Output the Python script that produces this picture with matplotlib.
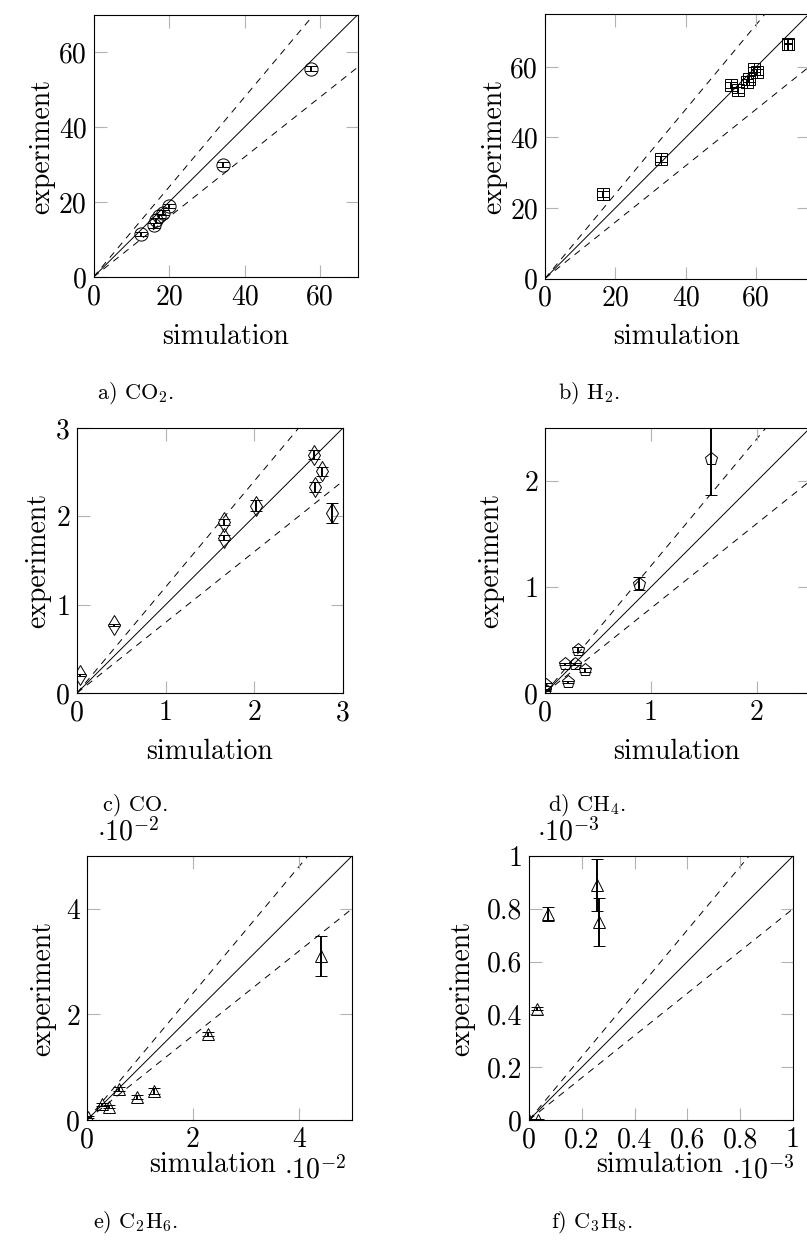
import numpy as np
import matplotlib
matplotlib.use("Agg")
import matplotlib.pyplot as plt
from matplotlib.ticker import FuncFormatter

# a) CO2
co2_sim = [12.5, 16.0, 16.5, 17.4, 18.3, 20.1, 34.2, 57.5]
co2_exp = [11.5, 13.8, 15.1, 16.3, 17.2, 19.0, 30.0, 55.6]
co2_err = [0.6, 0.6, 0.6, 0.6, 0.6, 0.6, 0.6, 0.6]

# b) H2
h2_sim = [16.5, 32.9, 52.7, 54.8, 57.5, 58.0, 59.4, 60.2, 69.0]
h2_exp = [23.9, 33.9, 54.9, 53.4, 55.8, 56.5, 59.3, 58.6, 66.4]
h2_err = [0.8, 0.8, 0.8, 0.8, 0.8, 0.8, 0.8, 0.8, 1.5]
h2_xerr = [0, 0, 0, 0, 0, 0, 0, 0, 1.2]

# c) CO
co_sim = [0.03, 0.42, 1.66, 1.66, 2.02, 2.67, 2.76, 2.68, 2.88]
co_exp = [0.20, 0.77, 1.94, 1.76, 2.12, 2.70, 2.51, 2.33, 2.04]
co_err = [0.01, 0.01, 0.035, 0.03, 0.06, 0.05, 0.05, 0.06, 0.11]

# d) CH4
ch4_sim = [0.00, 0.01, 0.22, 0.19, 0.28, 0.38, 0.31, 0.885, 1.57]
ch4_exp = [0.03, 0.08, 0.105, 0.27, 0.27, 0.22, 0.41, 1.03, 2.21]
ch4_err = [0.01, 0.01, 0.01, 0.01, 0.01, 0.02, 0.02, 0.06, 0.34]

# e) C2H6 (x 1e-2)
c2h6_sim = [0.02, 0.28, 0.42, 0.61, 0.95, 1.26, 2.28, 4.42]
c2h6_exp = [0.05, 0.30, 0.25, 0.59, 0.44, 0.55, 1.63, 3.10]
c2h6_err = [0.02, 0.03, 0.03, 0.04, 0.04, 0.05, 0.03, 0.38]

# f) C3H8 (x 1e-3)
c3h8_sim = [0.0, 0.035, 0.031, 0.072, 0.258, 0.266]
c3h8_exp = [0.0, 0.0, 0.422, 0.78, 0.889, 0.75]
c3h8_err = [0.003, 0.003, 0.006, 0.028, 0.098, 0.09]

plt.rcParams.update({
    "font.family": "cmr10",
    "mathtext.fontset": "cm",
    "axes.formatter.use_mathtext": True,
    "axes.unicode_minus": False,
})

W, H = 807, 1243
fig = plt.figure(figsize=(W / 100, H / 100), dpi=100)


def px_axes(x0, y0, x1, y1):
    return fig.add_axes([x0 / W, 1 - y1 / H, (x1 - x0) / W, (y1 - y0) / H])


def ftext(x, y, s, **kw):
    fig.text(x / W, 1 - y / H, s, **kw)


def draw_panel(ax, sim, exp, err, marker, msize, lim, ticks, xerr=None):
    ref = np.array([0, lim])
    ax.plot(ref, ref, color="black", lw=0.7, zorder=1)
    ax.plot(ref, 1.2 * ref, color="black", lw=0.7, dashes=(7, 6), zorder=1)
    ax.plot(ref, 0.8 * ref, color="black", lw=0.7, dashes=(7, 6), zorder=1)
    ax.errorbar(sim, exp, yerr=err, xerr=xerr, fmt=marker, ms=msize,
                mfc="none", mec="black", mew=0.7, ecolor="black",
                elinewidth=1.4, capsize=4, capthick=1.4, zorder=3)
    ax.set_xlim(0, lim)
    ax.set_ylim(0, lim)
    ax.set_xticks(ticks)
    ax.set_yticks(ticks)
    fmt = FuncFormatter(lambda v, p: f"{v:g}")
    ax.xaxis.set_major_formatter(fmt)
    ax.yaxis.set_major_formatter(fmt)
    ax.tick_params(direction="in", top=True, right=True, length=9, width=0.8,
                   color="0.7", labelsize=20, pad=5)
    for s in ax.spines.values():
        s.set_linewidth(0.8)


ax_a = px_axes(93.5, 14.5, 358, 277)
draw_panel(ax_a, co2_sim, co2_exp, co2_err, "o", 9.5, 70, [0, 20, 40, 60])
ax_b = px_axes(545, 14, 809, 278.5)
draw_panel(ax_b, h2_sim, h2_exp, h2_err, "s", 8, 75, [0, 20, 40, 60], xerr=h2_xerr)
ax_c = px_axes(77, 428, 343, 693)
draw_panel(ax_c, co_sim, co_exp, co_err, "d", 10, 3, [0, 1, 2, 3])
ax_d = px_axes(545, 428, 810, 693)
draw_panel(ax_d, ch4_sim, ch4_exp, ch4_err, "p", 9.5, 2.5, [0, 1, 2])
ax_e = px_axes(87, 856, 352, 1120)
draw_panel(ax_e, c2h6_sim, c2h6_exp, c2h6_err, "^", 8, 5, [0, 2, 4])
ax_f = px_axes(529, 856, 793, 1120)
draw_panel(ax_f, c3h8_sim, c3h8_exp, c3h8_err, "^", 8, 1, [0, 0.2, 0.4, 0.6, 0.8, 1])

# axis labels
lab = dict(fontsize=20, ha="center", va="center")
for xc, yc in [(226, 337), (677, 337), (210, 752), (677, 752), (213, 1165), (660, 1165)]:
    ftext(xc, yc, "simulation", **lab)
for xc, yc in [(42, 146), (494, 146), (38, 560), (491, 560), (43, 988), (462, 988)]:
    ftext(xc, yc, "experiment", rotation=90, **lab)

# scaling factors
ftext(128, 832, r"$\cdot 10^{-2}$", **lab)
ftext(315, 1170, r"$\cdot 10^{-2}$", **lab)
ftext(568, 832, r"$\cdot 10^{-3}$", **lab)
ftext(763, 1170, r"$\cdot 10^{-3}$", **lab)

# captions
cap = dict(fontsize=16, ha="left", va="center")
ftext(97, 393, "a) CO$_2$.", **cap)
ftext(558, 393, "b) H$_2$.", **cap)
ftext(103, 805, "c) CO.", **cap)
ftext(548, 805, "d) CH$_4$.", **cap)
ftext(93, 1222, "e) C$_2$H$_6$.", **cap)
ftext(551, 1222, "f) C$_3$H$_8$.", **cap)

fig.savefig("out.png", dpi=100)
